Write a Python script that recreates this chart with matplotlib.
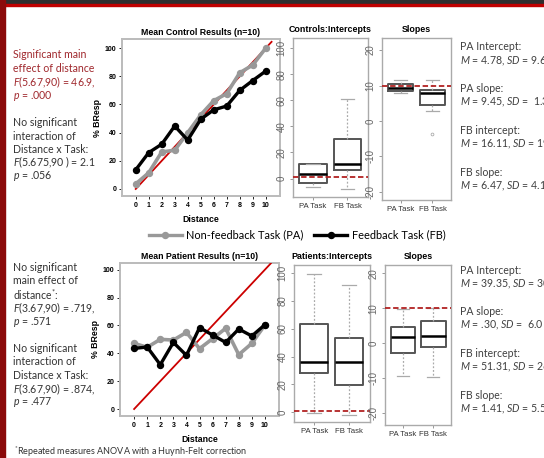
import matplotlib
matplotlib.use("Agg")
import matplotlib.pyplot as plt
from matplotlib.lines import Line2D
from matplotlib.patches import Rectangle
from matplotlib.transforms import Bbox, TransformedBbox

plt.rcParams['mathtext.fontset'] = 'custom'
plt.rcParams['mathtext.rm'] = 'Lato'
plt.rcParams['mathtext.it'] = 'Lato:italic'
plt.rcParams['mathtext.bf'] = 'Lato:bold'

W, H = 544, 458

# ---- data ----
distance = list(range(11))
ctrl_pa = [3.6, 11.5, 26.3, 27.5, 40, 52.6, 62.7, 67.7, 82.5, 88, 100]
ctrl_fb = [13.6, 25.8, 31.8, 44.7, 34.7, 49.5, 56.2, 58.9, 70, 77, 83.7]
pat_pa = [47.1, 44.3, 50, 49.5, 55, 43.3, 50.5, 57.9, 39, 47.1, 60.3]
pat_fb = [43.5, 44.5, 31.8, 47.8, 38.5, 58.4, 53.1, 47.8, 57.4, 52.4, 60.5]
ideal_x = [0, 10.45]
ideal_y = [0, 104.5]

box_labels = ["PA Task", "FB Task"]
# (whislo, q1, med, q3, whishi, fliers)
ctrl_int = [(-6.4, -3.1, 3.1, 10.8, 11.5, []), (-7.7, 6.4, 10.8, 30.5, 61, [])]
ctrl_slope = [(7.8, 8.4, 9.3, 10.3, 11.5, []), (2.9, 4.4, 7.8, 8.8, 11.5, [-3.7])]
pat_int = [(-0.7, 28, 36, 63.5, 99.3, []), (-2.2, 19.4, 36.2, 53.5, 91.6, [])]
pat_slope = [(-9.4, -2.6, 1.9, 4.8, 9.8, []), (-9.6, -1.0, 2.1, 6.5, 10, [])]
ref_int = 1
ref_slope = 10

ctrl_stats = ["PA Intercept:", "$M$ = 4.78, $SD$ = 9.6", "PA slope:", "$M$ = 9.45, $SD$ =  1.3",
              "FB intercept:", "$M$ = 16.11, $SD$ = 19", "FB slope:", "$M$ = 6.47, $SD$ = 4.1"]
pat_stats = ["PA Intercept:", "$M$ = 39.35, $SD$ = 30", "PA slope:", "$M$ = .30, $SD$ =  6.0",
             "FB intercept:", "$M$ = 51.31, $SD$ = 26", "FB slope:", "$M$ = 1.41, $SD$ = 5.5"]

ctrl_sig = ["Significant main", "effect of distance", "$F$(5.67,90) = 46.9,", "$p$ = .000"]
ctrl_int_txt = ["No significant", "interaction of", "Distance x Task:", "$F$(5.675,90 ) = 2.1", "$p$ = .056"]
pat_main = ["No significant", "main effect of", "distance$^{*}$:", "$F$(3.67,90) = .719,", "$p$ = .571"]
pat_int_txt = ["No significant", "interaction of", "Distance x Task:", "$F$(3.67,90) = .874,", "$p$ = .477"]
footnote = "$^{*}$Repeated measures ANOVA with a Huynh-Felt correction"

GREY = "#999999"
RED = "#CC0000"
TXTRED = "#A0282D"
TXT = "#333333"
ARIAL = 'Liberation Sans'


def rect(l, t, r, b):
    return [l / W, 1 - b / H, (r - l) / W, (b - t) / H]


def px(x, y):
    return x / W, 1 - y / H


fig = plt.figure(figsize=(W / 100, H / 100), dpi=100)

# page border
fig.patches.append(Rectangle((0, 1 - 4 / H), 1, 4 / H, transform=fig.transFigure, color="#2e2e2e", zorder=0))
fig.patches.append(Rectangle((0, 1 - 6 / H), 1, 2 / H, transform=fig.transFigure, color="#c00000", zorder=0))
fig.patches.append(Rectangle((0, 0), 5 / W, 1, transform=fig.transFigure, color="#8b0a0a", zorder=0))


def line_panel(pos, title, pa, fb, ylo, yhi):
    ax = fig.add_axes(pos)
    ax.plot(ideal_x, ideal_y, color=RED, lw=1.3, zorder=3)
    ax.plot(distance, pa, color=GREY, lw=2.6, marker='o', ms=4.3, zorder=4)
    ax.plot(distance, fb, color='black', lw=2.4, marker='o', ms=4.3, zorder=5)
    ax.set_xlim(-1.08, 11.1)
    ax.set_ylim(ylo, yhi)
    ax.set_xticks(distance)
    ax.set_yticks([0, 20, 40, 60, 80, 100])
    for s in ax.spines.values():
        s.set_color("#bbbbbb")
        s.set_linewidth(1.4)
    ax.tick_params(labelsize=5, length=2, width=0.6, pad=2)
    for lab in ax.get_xticklabels() + ax.get_yticklabels():
        lab.set_fontweight('bold')
        lab.set_family(ARIAL)
    ax.set_title(title, fontsize=6.3, fontweight='bold', pad=3, family=ARIAL)
    ax.set_xlabel("Distance", fontsize=6.3, fontweight='bold', labelpad=5, family=ARIAL)
    ax.set_ylabel("% BResp", fontsize=6.3, fontweight='bold', labelpad=2, family=ARIAL)
    return ax


line_panel(rect(121.7, 39.3, 280, 196), "Mean Control Results (n=10)", ctrl_pa, ctrl_fb, -5, 106.3)
line_panel(rect(120, 262.7, 279.3, 416), "Mean Patient Results (n=10)", pat_pa, pat_fb, -5, 105)


def box_panel(pos, title, data, ref, ylim, yticks):
    ax = fig.add_axes(pos)
    stats = []
    for lab, (lo, q1, med, q3, hi, fl) in zip(box_labels, data):
        stats.append(dict(label=lab, whislo=lo, q1=q1, med=med, q3=q3, whishi=hi, fliers=fl))
    ax.bxp(stats, positions=[1, 2], widths=0.8, patch_artist=False,
           boxprops=dict(color="#555555", lw=1.4),
           medianprops=dict(color="black", lw=1.8),
           whiskerprops=dict(color="#aaaaaa", lw=0.9, ls=(0, (1.5, 1.5))),
           capprops=dict(color="#aaaaaa", lw=0.9),
           flierprops=dict(marker='o', ms=2, mfc='none', mec="#aaaaaa", mew=0.6))
    ax.axhline(ref, color="#b22222", lw=1.3, ls=(0, (3, 1.5)), zorder=5)
    ax.set_xlim(0.42, 2.58)
    ax.set_ylim(*ylim)
    ax.set_yticks(yticks)
    ax.set_yticklabels([str(v) for v in yticks], rotation=90, va='center',
                       fontsize=7, color="#666666", family=ARIAL)
    for lab in ax.get_xticklabels():
        lab.set_family(ARIAL)
        lab.set_fontsize(5.6)
        lab.set_color(TXT)
    for s in ax.spines.values():
        s.set_color("#aaaaaa")
        s.set_linewidth(1.0)
    ax.tick_params(length=2.5, width=0.6, color="#888888", pad=2)
    ax.set_title(title, fontsize=6.4, fontweight='bold', pad=4, family=ARIAL)
    return ax


box_panel(rect(293, 38, 367.5, 197), "Controls:Intercepts", ctrl_int, ref_int, (-14.2, 107.9),
          [0, 20, 40, 60, 80, 100])
box_panel(rect(382, 38, 451, 200), "Slopes", ctrl_slope, ref_slope, (-22.3, 23.4),
          [-20, -10, 0, 10, 20])
box_panel(rect(294, 265, 369.5, 421.7), "Patients:Intercepts", pat_int, ref_int, (-6.8, 106),
          [0, 20, 40, 60, 80, 100])
box_panel(rect(385, 265, 451, 425), "Slopes", pat_slope, ref_slope, (-23.3, 22.4),
          [-20, -10, 0, 10, 20])

# legend
handles = [Line2D([], [], color=GREY, lw=2.4, marker='o', ms=4.3),
           Line2D([], [], color='black', lw=2.4, marker='o', ms=4.3)]
fig.legend(handles, ["Non-feedback Task (PA)", "Feedback Task (FB)"], loc='center',
           bbox_to_anchor=px(297, 235), ncol=2, frameon=False, handlelength=3.0,
           columnspacing=1.0, handletextpad=0.4, numpoints=1,
           prop=dict(family='Lato', size=7.9))

# left annotation text (clipped where the chart image starts)
clip = TransformedBbox(Bbox.from_extents(0, 0, 94.5 / W, 1), fig.transFigure)


def text_block(lines, x, y0, step, color):
    for i, s in enumerate(lines):
        t = fig.text(*px(x, y0 + i * step), s, fontsize=7.6, family='Lato', color=color,
                     va='center', ha='left')
        t.set_clip_box(clip)
        t.set_clip_on(True)


text_block(ctrl_sig, 13, 54.3, 13.8, TXTRED)
text_block(ctrl_int_txt, 13, 122.7, 13.3, TXT)
text_block(pat_main, 13, 267.3, 13.6, TXT)
text_block(pat_int_txt, 13, 348, 13.6, TXT)

fig.text(*px(14, 452), footnote, fontsize=6.5, family='Lato', color=TXT, va='center')

# right summary stats
for lines, y0 in [(ctrl_stats, 47), (pat_stats, 270)]:
    for i, s in enumerate(lines):
        y = y0 + (i // 2) * 41.7 + (i % 2) * 14
        fig.text(*px(460, y), s, fontsize=7.6, family='Lato', color="#404040", va='center')

fig.savefig("out.png", dpi=100)
